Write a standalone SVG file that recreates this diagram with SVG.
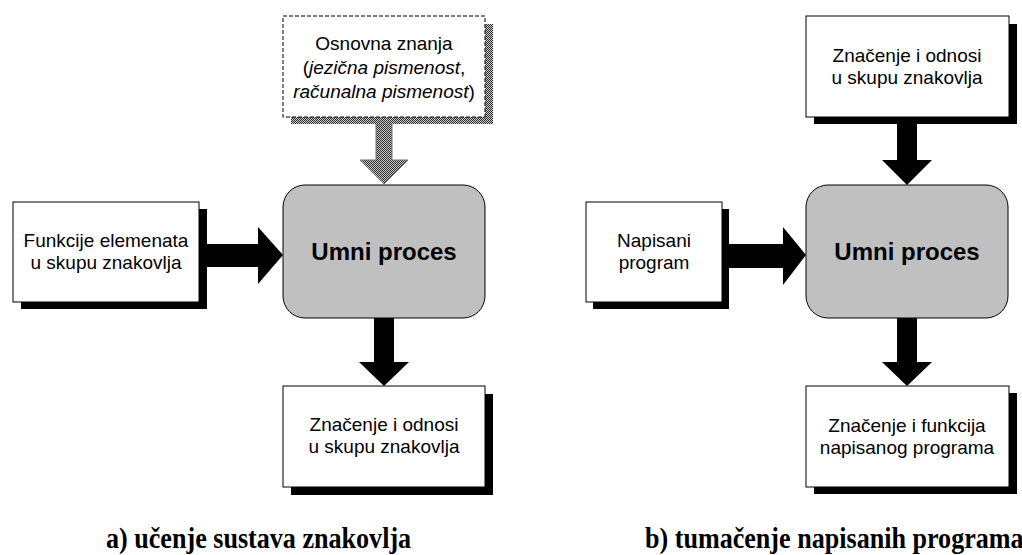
<svg xmlns="http://www.w3.org/2000/svg" width="1022" height="555" viewBox="0 0 1022 555">
<style>
.box{fill:#fff;stroke:#000;stroke-width:1}
.shadow{fill:#000}
.proc{fill:#c0c0c0;stroke:#000;stroke-width:1}
.t{font-family:"Liberation Sans",Arial,sans-serif;font-size:19px;fill:#000;text-anchor:middle}
.pt{font-family:"Liberation Sans",Arial,sans-serif;font-size:24px;font-weight:bold;fill:#000;text-anchor:middle}
.cap{font-family:"Liberation Serif","Times New Roman",serif;font-size:29px;font-weight:bold;fill:#000}
.arrow{fill:#000}
</style>
<defs>
<pattern id="chk" width="2" height="2" patternUnits="userSpaceOnUse">
<rect width="2" height="2" fill="#c8c8c8"/>
<rect width="1" height="1" fill="#303030"/>
<rect x="1" y="1" width="1" height="1" fill="#303030"/>
</pattern>
</defs>
<rect width="1022" height="555" fill="#fff"/>

<g id="connectors">
<polygon class="arrow" points="206,244 258,244 258,227 283,255 258,284 258,267 206,267"/>
<polygon class="arrow" points="374,318 394,318 394,362 409,362 384,386 359,362 374,362"/>
<polygon fill="url(#chk)" stroke="#707070" stroke-width="1" points="376,124 392,124 392,160 408,160 384,184 360,160 376,160"/>
<polygon class="arrow" points="728,244 783,244 783,227 806,255 783,285 783,268 728,268"/>
<polygon class="arrow" points="897,124 917,124 917,160 932,160 907,185 882,160 897,160"/>
<polygon class="arrow" points="897,318 917,318 917,362 932,362 907,386 882,362 897,362"/>
</g>

<g id="osnovna">
<rect x="291" y="24" width="202" height="100" fill="url(#chk)"/>
<rect x="283" y="16" width="202" height="101" fill="#fff" stroke="#000" stroke-width="1" stroke-dasharray="4,2"/>
<text class="t" x="384" y="50">Osnovna znanja</text>
<text class="t" x="384" y="74">(<tspan font-style="italic">jezična pismenost</tspan>,</text>
<text class="t" x="384" y="98"><tspan font-style="italic">računalna pismenost</tspan>)</text>
</g>

<g id="funkcije">
<rect class="shadow" x="21" y="209" width="186" height="100"/>
<rect class="box" x="13" y="202" width="186" height="100"/>
<text class="t" x="106" y="247">Funkcije elemenata</text>
<text class="t" x="106" y="269">u skupu znakovlja</text>
</g>

<g id="umni-a">
<rect class="proc" x="283" y="185" width="202" height="133" rx="22" ry="22"/>
<text class="pt" x="384" y="260">Umni proces</text>
</g>

<g id="znacenje-a">
<rect class="shadow" x="291" y="394" width="202" height="101"/>
<rect class="box" x="283" y="386" width="202" height="101"/>
<text class="t" x="384" y="431">Značenje i odnosi</text>
<text class="t" x="384" y="453">u skupu znakovlja</text>
</g>

<g id="znacenje-b-top">
<rect class="shadow" x="814" y="24" width="203" height="100"/>
<rect class="box" x="806" y="16" width="203" height="101"/>
<text class="t" x="907" y="62">Značenje i odnosi</text>
<text class="t" x="907" y="84">u skupu znakovlja</text>
</g>

<g id="napisani">
<rect class="shadow" x="593" y="209" width="136" height="100"/>
<rect class="box" x="586" y="202" width="136" height="100"/>
<text class="t" x="654" y="247">Napisani</text>
<text class="t" x="654" y="269">program</text>
</g>

<g id="umni-b">
<rect class="proc" x="806" y="185" width="202" height="133" rx="22" ry="22"/>
<text class="pt" x="907" y="260">Umni proces</text>
</g>

<g id="znacenje-b">
<rect class="shadow" x="814" y="393" width="203" height="101"/>
<rect class="box" x="806" y="386" width="203" height="101"/>
<text class="t" x="907" y="432">Značenje i funkcija</text>
<text class="t" x="907" y="454">napisanog programa</text>
</g>

<g id="captions">
<text class="cap" transform="translate(106,548) scale(0.9,1)">a) učenje sustava znakovlja</text>
<text class="cap" transform="translate(645,548) scale(0.9,1)">b) tumačenje napisanih programa</text>
</g>
</svg>
